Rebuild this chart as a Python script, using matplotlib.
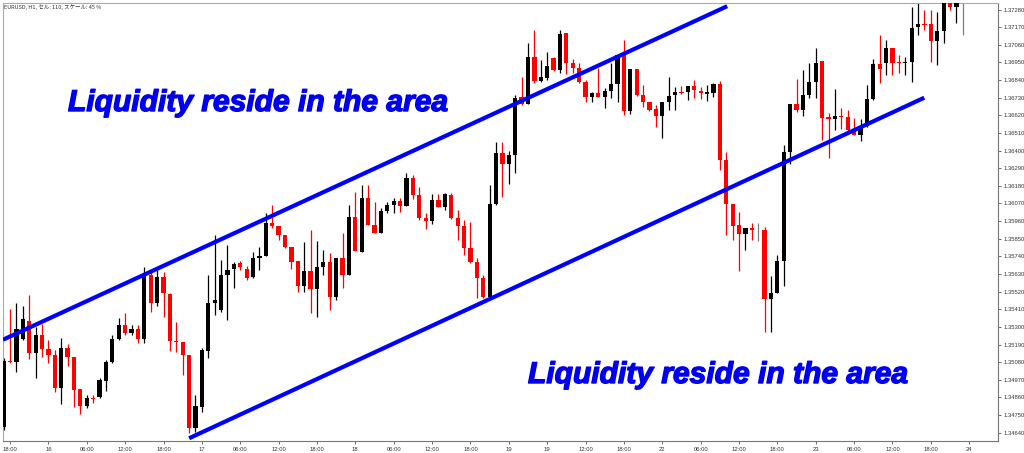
import matplotlib
matplotlib.use("Agg")
import matplotlib.pyplot as plt
import matplotlib.patheffects as pe
import numpy as np

# ---------------- data (EURUSD H1) ----------------
opens = [1.34674, 1.35085, 1.35079, 1.35223, 1.35335, 1.35135, 1.35248, 1.35160, 1.35123, 1.34917,
         1.35166, 1.35110, 1.34911, 1.34805, 1.34854, 1.34861, 1.34961, 1.35079, 1.35223, 1.35310,
         1.35260, 1.35285, 1.35223, 1.35622, 1.35447, 1.35610, 1.35503, 1.35210, 1.35204, 1.35123,
         1.34667, 1.34798, 1.35148, 1.35447, 1.35404, 1.35622, 1.35659, 1.35697, 1.35659, 1.35610,
         1.35728, 1.35741, 1.35946, 1.35928, 1.35872, 1.35797, 1.35709, 1.35553, 1.35647, 1.35535,
         1.35672, 1.35703, 1.35485, 1.35728, 1.35622, 1.35984, 1.35766, 1.36102, 1.35934, 1.35884,
         1.36021, 1.36059, 1.36084, 1.36053, 1.36227, 1.36121, 1.35978, 1.35959, 1.36090, 1.36046,
         1.36121, 1.35978, 1.35928, 1.35790, 1.35703, 1.35603, 1.35485, 1.36065, 1.36383, 1.36315,
         1.36371, 1.36733, 1.36689, 1.36982, 1.36833, 1.36851, 1.36976, 1.36901, 1.37132, 1.36945,
         1.36914, 1.36826, 1.36733, 1.36758, 1.36733, 1.36770, 1.36814, 1.36995, 1.36645, 1.36907,
         1.36745, 1.36702, 1.36658, 1.36614, 1.36702, 1.36745, 1.36764, 1.36764, 1.36801, 1.36770,
         1.36751, 1.36758, 1.36814, 1.36340, 1.36065, 1.35934, 1.35878, 1.35915, 1.35903, 1.35903,
         1.35472, 1.35510, 1.35709, 1.36390, 1.36689, 1.36652, 1.36745, 1.36826, 1.36957, 1.36608,
         1.36595, 1.36614, 1.36608, 1.36527, 1.36496, 1.36552, 1.36720, 1.36939, 1.36945, 1.37038,
         1.36951, 1.36945, 1.36951, 1.37170, 1.37188, 1.37188, 1.37082, 1.37145, 1.37350, 1.37294,
         1.37350]
highs = [1.35104, 1.35410, 1.35447, 1.35429, 1.35497, 1.35298, 1.35316, 1.35216, 1.35154, 1.35229,
         1.35191, 1.35110, 1.34911, 1.34873, 1.34873, 1.34979, 1.35092, 1.35248, 1.35354, 1.35385,
         1.35310, 1.35310, 1.35672, 1.35659, 1.35653, 1.35641, 1.35510, 1.35329, 1.35204, 1.35123,
         1.34873, 1.35166, 1.35622, 1.35872, 1.35716, 1.35809, 1.35703, 1.35709, 1.35678, 1.35766,
         1.35797, 1.36009, 1.36059, 1.35928, 1.35872, 1.35797, 1.35709, 1.35828, 1.35903, 1.35834,
         1.35778, 1.35759, 1.35728, 1.35884, 1.36059, 1.36140, 1.36184, 1.36184, 1.36078, 1.36040,
         1.36078, 1.36102, 1.36102, 1.36258, 1.36246, 1.36171, 1.36009, 1.36127, 1.36127, 1.36134,
         1.36134, 1.36028, 1.35965, 1.35953, 1.35728, 1.35622, 1.36184, 1.36452, 1.36452, 1.36396,
         1.36745, 1.36858, 1.37070, 1.37151, 1.36964, 1.37014, 1.36982, 1.37151, 1.37132, 1.36970,
         1.36945, 1.36839, 1.36764, 1.36914, 1.36789, 1.36945, 1.36995, 1.37088, 1.36907, 1.36907,
         1.36808, 1.36702, 1.36683, 1.36702, 1.36858, 1.36795, 1.36801, 1.36801, 1.36839, 1.36795,
         1.36808, 1.36820, 1.36833, 1.36390, 1.36065, 1.36015, 1.35915, 1.35946, 1.35946, 1.35922,
         1.35616, 1.35747, 1.36433, 1.36689, 1.36845, 1.36901, 1.36945, 1.37038, 1.36957, 1.36633,
         1.36783, 1.36664, 1.36652, 1.36602, 1.36595, 1.36808, 1.36970, 1.37120, 1.37088, 1.37038,
         1.36995, 1.36982, 1.37294, 1.37319, 1.37276, 1.37276, 1.37263, 1.37400, 1.37400, 1.37400,
         1.37400]
lows = [1.34655, 1.35073, 1.35017, 1.35216, 1.35098, 1.34979, 1.35110, 1.35073, 1.34892, 1.34817,
        1.35054, 1.34798, 1.34755, 1.34792, 1.34823, 1.34854, 1.34898, 1.35073, 1.35216, 1.35248,
        1.35248, 1.35198, 1.35198, 1.35391, 1.35429, 1.35360, 1.35148, 1.35142, 1.34998, 1.34636,
        1.34642, 1.34767, 1.35104, 1.35372, 1.35391, 1.35341, 1.35541, 1.35653, 1.35591, 1.35603,
        1.35653, 1.35741, 1.35915, 1.35840, 1.35790, 1.35659, 1.35516, 1.35516, 1.35385, 1.35360,
        1.35622, 1.35404, 1.35466, 1.35541, 1.35622, 1.35772, 1.35766, 1.35934, 1.35884, 1.35884,
        1.36009, 1.36009, 1.36015, 1.36053, 1.36096, 1.35965, 1.35909, 1.35940, 1.36046, 1.36028,
        1.35971, 1.35840, 1.35747, 1.35697, 1.35478, 1.35478, 1.35478, 1.36059, 1.36109, 1.36190,
        1.36258, 1.36683, 1.36689, 1.36820, 1.36826, 1.36839, 1.36895, 1.36882, 1.36876, 1.36882,
        1.36820, 1.36702, 1.36702, 1.36733, 1.36664, 1.36726, 1.36702, 1.36620, 1.36627, 1.36739,
        1.36670, 1.36645, 1.36546, 1.36477, 1.36652, 1.36652, 1.36751, 1.36714, 1.36726, 1.36720,
        1.36708, 1.36733, 1.36277, 1.35872, 1.35840, 1.35647, 1.35778, 1.35840, 1.35834, 1.35266,
        1.35266, 1.35510, 1.35553, 1.36315, 1.36639, 1.36614, 1.36726, 1.36726, 1.36464, 1.36352,
        1.36527, 1.36533, 1.36502, 1.36496, 1.36458, 1.36546, 1.36714, 1.36820, 1.36870, 1.36870,
        1.36882, 1.36870, 1.36826, 1.37120, 1.37151, 1.36951, 1.36932, 1.37070, 1.37276, 1.37194,
        1.37120]
closes = [1.35085, 1.35079, 1.35285, 1.35347, 1.35135, 1.35248, 1.35160, 1.35123, 1.34917, 1.35166,
          1.35110, 1.34904, 1.34805, 1.34854, 1.34848, 1.34967, 1.35079, 1.35223, 1.35310, 1.35260,
          1.35285, 1.35223, 1.35616, 1.35447, 1.35610, 1.35510, 1.35210, 1.35204, 1.35123, 1.34667,
          1.34805, 1.35154, 1.35447, 1.35466, 1.35622, 1.35653, 1.35691, 1.35672, 1.35603, 1.35728,
          1.35741, 1.35946, 1.35928, 1.35872, 1.35797, 1.35703, 1.35553, 1.35647, 1.35535, 1.35672,
          1.35703, 1.35485, 1.35728, 1.35622, 1.35984, 1.35772, 1.36102, 1.35934, 1.35884, 1.36021,
          1.36059, 1.36084, 1.36053, 1.36227, 1.36121, 1.35978, 1.35959, 1.36090, 1.36046, 1.36127,
          1.35978, 1.35928, 1.35790, 1.35703, 1.35603, 1.35485, 1.36065, 1.36383, 1.36315, 1.36371,
          1.36726, 1.36689, 1.36982, 1.36833, 1.36858, 1.36926, 1.36901, 1.37126, 1.36945, 1.36914,
          1.36826, 1.36733, 1.36758, 1.36733, 1.36770, 1.36814, 1.36995, 1.36645, 1.36907, 1.36745,
          1.36702, 1.36652, 1.36614, 1.36702, 1.36739, 1.36764, 1.36758, 1.36801, 1.36776, 1.36758,
          1.36764, 1.36814, 1.36340, 1.36065, 1.35928, 1.35878, 1.35915, 1.35903, 1.35903, 1.35472,
          1.35510, 1.35709, 1.36390, 1.36689, 1.36652, 1.36745, 1.36826, 1.36945, 1.36602, 1.36595,
          1.36614, 1.36608, 1.36527, 1.36496, 1.36552, 1.36720, 1.36939, 1.36907, 1.37038, 1.36945,
          1.36945, 1.36951, 1.37163, 1.37188, 1.37182, 1.37082, 1.37145, 1.37350, 1.37294, 1.37350,
          1.37350]
first_index = -1  # candle index of the first bar (index 0 = 15th 18:00)

x_tick_labels = ["18:00", "16", "06:00", "12:00", "18:00", "17", "06:00", "12:00", "18:00",
                 "18", "06:00", "12:00", "18:00", "19", "19", "12:00", "18:00", "22", "06:00",
                 "12:00", "18:00", "23", "06:00", "12:00", "18:00", "24"]
x_tick_step = 6
y_tick_start = 1.34640
y_tick_step = 0.0011
y_tick_count = 25

# trendlines: (candle index, price)
upper_line_x = [-1.1, 112.15]
upper_line_y = [1.35220, 1.37301]
lower_line_x = [28.0, 142.97]
lower_line_y = [1.34605, 1.36730]

header_text = "EURUSD, H1, セル: 110, スケール: 45 %"
annotation = "Liquidity reside in the area"

# ---------------- plot ----------------
W, H = 1024, 453
fig = plt.figure(figsize=(W / 100, H / 100), dpi=100)
ax = fig.add_axes([3 / W, 1 - 441 / H, (998 - 3) / W, (441 - 3) / H])

n = len(opens)
xs = np.arange(n) + first_index
o = np.array(opens); c = np.array(closes); h = np.array(highs); l = np.array(lows)

colors = []
for oi, ci in zip(o, c):
    if ci > oi:
        colors.append("#000000")
    elif ci < oi:
        colors.append("#ff0000")
    else:
        colors.append("#808080")

body_w = 0.66
ax.vlines(xs, l, h, colors=colors, linewidth=0.9, zorder=2)
bottoms = np.minimum(o, c)
heights = np.abs(c - o)
heights = np.maximum(heights, 0.000012)
ax.bar(xs, heights, bottom=bottoms, width=body_w, color=colors, linewidth=0, zorder=3)

ax.plot(upper_line_x, upper_line_y, color="#0000ff", linewidth=3.0, solid_capstyle="butt", zorder=5)
ax.plot(lower_line_x, lower_line_y, color="#0000ff", linewidth=3.0, solid_capstyle="butt", zorder=5)

ax.set_xlim(-1.1, 154.5)
ax.set_ylim(1.34588, 1.37321)

xt = [k * x_tick_step for k in range(len(x_tick_labels))]
ax.set_xticks(xt)
ax.set_xticklabels(x_tick_labels, fontsize=4.2, family="Liberation Sans", color="#333333")
yt = [y_tick_start + k * y_tick_step for k in range(y_tick_count)]
ax.yaxis.tick_right()
ax.set_yticks(yt)
ax.set_yticklabels([f"{v:.5f}" for v in yt], fontsize=4.2, family="Liberation Sans", color="#333333")
ax.tick_params(axis="both", length=2, width=0.6, color="#555555", pad=2)

for s in ["left", "top"]:
    ax.spines[s].set_color("#aaaaaa")
    ax.spines[s].set_linewidth(0.8)
for s in ["right", "bottom"]:
    ax.spines[s].set_color("#777777")
    ax.spines[s].set_linewidth(0.8)

fig.text(4 / W, 1 - 7.5 / H, header_text, fontsize=4.0, va="center", ha="left",
         family=["Noto Sans CJK JP", "DejaVu Sans"], color="#333333")

heavy = [pe.withStroke(linewidth=1.0, foreground="#0000f0")]
fig.text(68 / W, 1 - 111 / H, annotation, fontsize=21.6, fontweight="bold", fontstyle="italic",
         color="#0000f0", va="baseline", ha="left", family="Liberation Sans", path_effects=heavy)
fig.text(528 / W, 1 - 383 / H, annotation, fontsize=21.6, fontweight="bold", fontstyle="italic",
         color="#0000f0", va="baseline", ha="left", family="Liberation Sans", path_effects=heavy)

fig.savefig("out.png", dpi=100, facecolor="white")
